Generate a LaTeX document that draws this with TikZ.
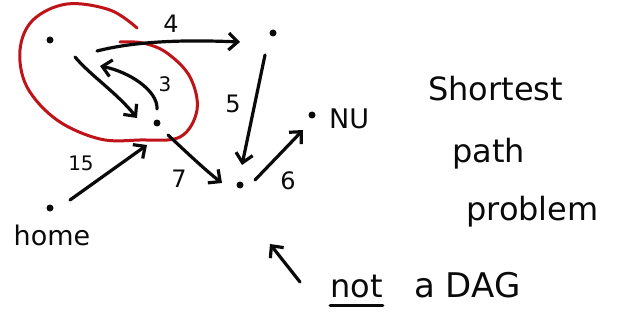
\documentclass[tikz,border=0pt]{standalone}
\usepackage{fontspec}
\setmainfont{DejaVu Sans}
\usetikzlibrary{arrows.meta,calc}
\definecolor{pen}{RGB}{10,10,10}
\definecolor{redpen}{RGB}{190,20,25}
\tikzset{
  dot/.style={circle,fill=pen,inner sep=0pt,minimum size=7pt},
  edge/.style={draw=pen,line width=3.2pt,line cap=round,line join=round,
    -{Straight Barb[length=9pt,width=17pt,line width=3.2pt]}},
  lbl/.style={text=pen,font=\fontsize{24}{26}\selectfont,inner sep=0pt},
  word/.style={text=pen,font=\fontsize{27}{30}\selectfont,inner sep=0pt},
  small/.style={text=pen,font=\fontsize{20}{22}\selectfont,inner sep=0pt},
  big/.style={text=pen,font=\fontsize{32}{36}\selectfont,inner sep=0pt,anchor=base west}
}
\begin{document}
\begin{tikzpicture}[x=1pt,y=-1pt]
\useasboundingbox (0,0) rectangle (627,329);
% dots
\node[dot] (A) at (50,40) {};
\node[dot] (B) at (273,33) {};
\node[dot] (C) at (157,123) {};
\node[dot] (D) at (240,185) {};
\node[dot] (N) at (312,115) {};
\node[dot] (H) at (50,208) {};
\node[word,anchor=west] (NU) at (329,119) {NU};
\node[word] (home) at (52,235) {home};
% red loop
\draw[redpen,line width=3pt,line cap=round] plot[smooth,tension=0.6] coordinates
 {(137,28) (110,10) (67,4) (33,20) (20,50) (27,87) (57,120) (100,139) (140,140) (180,137) (197,110) (190,77) (167,53) (143,43) (120,42)};
% edges
\draw[edge] ($(A)+(47,11)$) .. controls ($(A)+(90,0)$) and ($(B)+(-80,7)$) .. ($(B)+(-33,9)$);
\draw[edge] ($(A)+(25,17)$) .. controls ($(A)+(40,35)$) and ($(C)+(-40,-30)$) .. ($(C)+(-20,-5)$);
\draw[edge] ($(C)+(0,-14)$) .. controls ($(C)+(1,-32)$) and ($(A)+(80,32)$) .. ($(A)+(50,26)$);
\draw[edge] ($(B)+(-8,22)$) -- ($(D)+(2,-20)$);
\draw[edge] ($(C)+(11,12)$) .. controls ($(C)+(25,25)$) and ($(D)+(-35,-15)$) .. ($(D)+(-18,-2)$);
\draw[edge] ($(D)+(15,-5)$) -- ($(N)+(-9,15)$);
\draw[edge] ($(H)+(20,-8)$) -- ($(C)+(-10,22)$);
% weights
\node[lbl] (w4) at (171,24) {4};
\node[small] (w3) at (165,84) {3};
\node[lbl] (w5) at (233,104) {5};
\node[small] (w15) at (81,163) {15};
\node[lbl] (w7) at (179,179) {7};
\node[lbl] (w6) at (288,181) {6};
% right texts
\node[big] (t1) at (428,100) {Shortest};
\node[big] (t2) at (452,162) {path};
\node[big] (t3) at (466,220) {problem};
% not a DAG
\coordinate (p1) at (300,282);
\coordinate (p2) at (270,244);
\draw[edge] (p1) -- (p2);
\node[big] (not) at (330,297) {not};
\draw[pen,line width=3pt,line cap=round] ($(not.base west)+(0,8)$) -- ($(not.base east)+(0,8)$);
\node[big,font=\fontsize{34}{38}\selectfont] (dag) at (414,297) {a DAG};
\end{tikzpicture}
\end{document}
